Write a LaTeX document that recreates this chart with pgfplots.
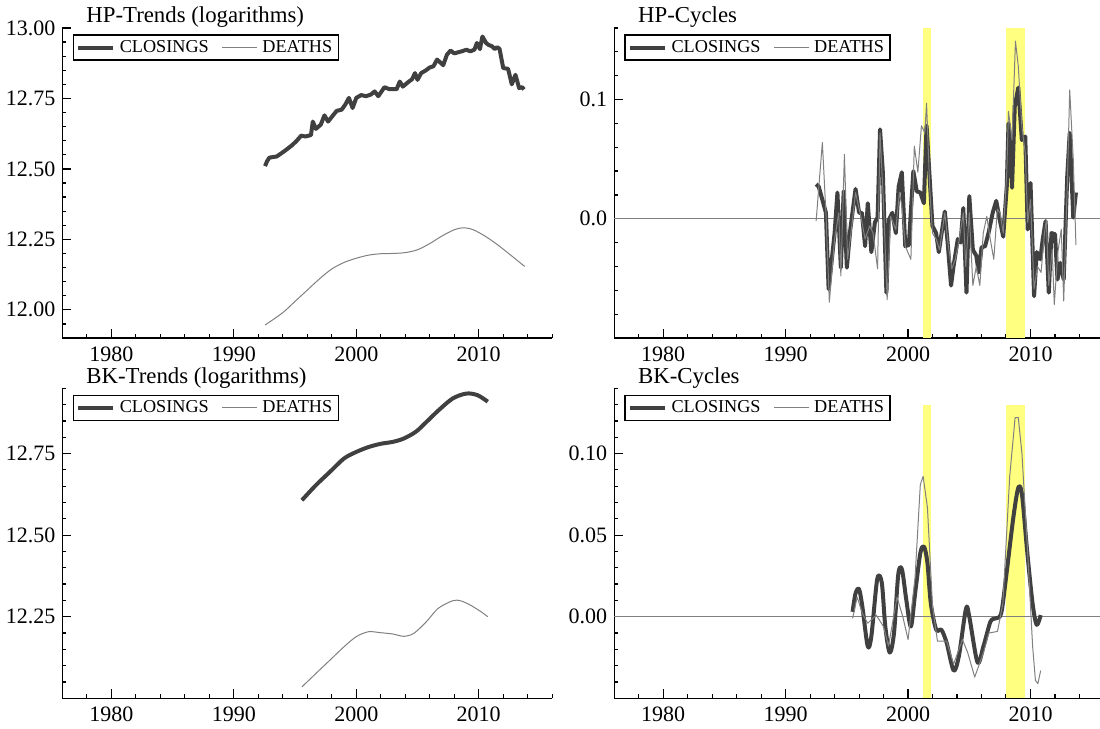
\documentclass[border=0pt]{standalone}
\usepackage{pgfplots}
\pgfplotsset{compat=1.18}
\usepackage{fontspec}
\setmainfont{Liberation Serif}
\definecolor{dk}{HTML}{404040}
\definecolor{lt}{HTML}{808080}
\definecolor{band}{HTML}{FFFF80}

\pgfplotsset{
 panel/.style={
  scale only axis, width=244.9bp, height=155bp, anchor=south west,
  xmin=1976, xmax=2016,
  axis x line*=bottom, axis y line*=left,
  axis line style={line width=0.6bp, -},
  tick align=inside,
  major tick length=4.5bp, minor tick length=2bp,
  every tick/.style={black, line width=0.6bp},
  xtick={1980,1990,2000,2010},
  minor xtick={1976,1978,...,2016},
  ticklabel style={font=\fontsize{11bp}{12bp}\selectfont},
  /pgf/number format/assume math mode=true,
  x tick label style={/pgf/number format/1000 sep={}, yshift=-1bp},
  every axis title/.style={at={(0,1)}, anchor=base west, xshift=11.8bp, yshift=2.5bp, inner sep=0pt, font=\fontsize{11.4bp}{13bp}\selectfont},
  legend columns=2,
  legend style={at={(0,1)}, anchor=north west, xshift=5.1bp, yshift=-3.2bp, draw=black, line width=0.6bp,
    font=\fontsize{9.1bp}{10bp}\selectfont, inner xsep=1.5bp, inner ysep=1bp,
    nodes={inner sep=1.5bp},
    /tikz/every odd column/.append style={column sep=0.8bp},
    /tikz/every even column/.append style={column sep=5bp}},
  legend image code/.code={\draw[##1] (0bp,0bp) -- (17.5bp,0bp);},
 },
 cl/.style={dk, line width=2bp, line join=round},
 de/.style={lt, line width=0.5bp, line join=round},
}

\begin{document}
\begin{tikzpicture}
% ---------------- HP trends ----------------
\begin{axis}[panel, at={(31.2bp,195.5bp)},
  ymin=11.9, ymax=13.0,
  ytick={12,12.25,12.5,12.75,13},
  minor ytick={11.9,11.95,12.05,12.1,12.15,12.2,12.3,12.35,12.4,12.45,12.55,12.6,12.65,12.7,12.8,12.85,12.9,12.95},
  y tick label style={/pgf/number format/.cd, fixed, fixed zerofill, precision=2},
  title={HP-Trends (logarithms)}]
\addplot[cl] coordinates {
(1992.55,12.510) (1992.7,12.526) (1992.9,12.540) (1993.5,12.544) (1994.1,12.562)
(1994.7,12.582) (1995.1,12.598) (1995.5,12.618) (1995.85,12.615) (1996.3,12.620)
(1996.45,12.668) (1996.7,12.642) (1997.1,12.657) (1997.4,12.690) (1997.7,12.668)
(1998.1,12.690) (1998.4,12.706) (1998.8,12.710) (1999.1,12.728) (1999.4,12.752)
(1999.7,12.716) (2000.0,12.752) (2000.4,12.762) (2000.8,12.758) (2001.2,12.764)
(2001.5,12.775) (2001.8,12.758) (2002.3,12.790) (2002.7,12.783) (2003.3,12.783)
(2003.55,12.810) (2003.8,12.792) (2004.3,12.810) (2004.55,12.818) (2004.8,12.840)
(2005.0,12.816) (2005.3,12.840) (2005.7,12.850) (2006.0,12.860) (2006.3,12.864)
(2006.6,12.888) (2006.8,12.880) (2007.1,12.868) (2007.4,12.905) (2007.7,12.920)
(2008.0,12.910) (2008.6,12.917) (2009.0,12.923) (2009.3,12.917) (2009.65,12.923)
(2009.85,12.947) (2010.1,12.925) (2010.3,12.970) (2010.6,12.947) (2010.8,12.940)
(2011.1,12.935) (2011.3,12.925) (2011.5,12.932) (2011.7,12.926) (2012.0,12.858)
(2012.4,12.855) (2012.7,12.800) (2013.0,12.834) (2013.3,12.787) (2013.55,12.790)
(2013.7,12.782)};
\addlegendentry{CLOSINGS}
\addplot[de, smooth] coordinates {
(1992.55,11.946) (1994,11.99) (1995,12.03) (1996,12.07) (1997,12.11) (1998,12.145)
(1999,12.168) (2000,12.183) (2001,12.194) (2002,12.199) (2003,12.200) (2004,12.203)
(2005,12.213) (2006,12.235) (2007,12.262) (2008,12.284) (2008.7,12.291) (2009.5,12.285)
(2010.5,12.262) (2011.5,12.232) (2012.5,12.198) (2013.75,12.154)};
\addlegendentry{DEATHS}
\end{axis}

% ---------------- HP cycles ----------------
\begin{axis}[panel, at={(307.1bp,195.5bp)},
  ymin=-0.1, ymax=0.16,
  ytick={0,0.1},
  minor ytick={-0.1,-0.08,-0.06,-0.04,-0.02,0.02,0.04,0.06,0.08,0.12,0.14,0.16},
  y tick label style={/pgf/number format/.cd, fixed, fixed zerofill, precision=1},
  title={HP-Cycles}]
\addplot[fill=band, draw=none, forget plot] coordinates {(2001.22,-0.1) (2001.88,-0.1) (2001.88,0.16) (2001.22,0.16)} -- cycle;
\addplot[fill=band, draw=none, forget plot] coordinates {(2008.0,-0.1) (2009.52,-0.1) (2009.52,0.16) (2008.0,0.16)} -- cycle;
\addplot[lt, line width=0.6bp, forget plot] coordinates {(1976,0) (2016,0)};
\addplot[cl] coordinates {
(1992.49,0.029) (1992.7,0.027) (1993.0,0.016) (1993.29,0.005) (1993.51,-0.059)
(1993.71,-0.040) (1994.0,-0.012) (1994.23,0.022) (1994.51,-0.041) (1994.74,0.023)
(1995.0,-0.041) (1995.28,-0.009) (1995.71,0.025) (1996.0,0.005) (1996.23,0.005)
(1996.49,-0.023) (1996.71,0.013) (1997.0,-0.028) (1997.29,-0.003) (1997.51,0.001)
(1997.71,0.075) (1997.94,0.039) (1998.23,-0.062) (1998.43,-0.001) (1998.71,0.005)
(1999.0,-0.012) (1999.23,0.027) (1999.49,0.039) (1999.77,-0.023) (2000.06,-0.022)
(2000.43,0.040) (2000.71,0.023) (2001.0,0.022) (2001.29,0.013) (2001.51,0.078)
(2001.77,0.033) (2001.99,-0.006) (2002.29,-0.012) (2002.51,-0.028) (2002.74,-0.012)
(2003.0,0.006) (2003.23,-0.020) (2003.51,-0.056) (2003.71,-0.040) (2004.06,-0.017)
(2004.29,-0.020) (2004.51,0.009) (2004.77,-0.062) (2005.0,0.019) (2005.29,-0.026)
(2005.57,-0.031) (2005.77,-0.045) (2006.0,-0.024) (2006.29,-0.023) (2006.57,-0.012)
(2006.91,0.005) (2007.2,0.015) (2007.49,-0.001) (2007.77,-0.015) (2008.06,0.027)
(2008.2,0.080) (2008.49,0.026) (2008.71,0.094) (2009.0,0.110) (2009.29,0.066)
(2009.57,0.069) (2009.77,-0.009) (2010.0,0.030) (2010.29,-0.065) (2010.51,-0.028)
(2010.8,-0.034) (2011.0,-0.017) (2011.23,-0.002) (2011.49,-0.062) (2011.71,-0.012)
(2012.0,-0.013) (2012.2,-0.051) (2012.43,-0.037) (2012.71,-0.051) (2013.0,0.036)
(2013.2,0.072) (2013.49,0.001) (2013.71,0.022)};
\addlegendentry{CLOSINGS}
\addplot[de] coordinates {
(1992.49,-0.002) (1993.0,0.064) (1993.29,0.005) (1993.57,-0.070) (1994.0,-0.017)
(1994.34,0.005) (1994.51,-0.048) (1994.8,0.054) (1995.06,-0.034) (1995.34,-0.012)
(1995.71,0.022) (1996.14,0.002) (1996.49,-0.017) (1996.86,-0.006) (1997.14,-0.012)
(1997.51,-0.042) (1997.71,0.072) (1998.0,0.011) (1998.29,-0.068) (1998.57,0.002)
(1999.0,-0.009) (1999.29,0.022) (1999.49,0.011) (1999.77,-0.023) (2000.23,-0.034)
(2000.51,0.061) (2000.8,0.039) (2001.09,0.078) (2001.37,0.072) (2001.51,0.097)
(2001.77,0.025) (2001.99,-0.012) (2002.29,-0.017) (2002.57,-0.026) (2003.0,0.005)
(2003.29,-0.023) (2003.57,-0.042) (2003.86,-0.034) (2004.14,-0.020) (2004.51,0.005)
(2004.71,-0.040) (2005.0,0.005) (2005.29,-0.056) (2005.57,-0.040) (2005.86,-0.056)
(2006.14,-0.012) (2006.43,0.002) (2006.71,-0.017) (2007.0,-0.034) (2007.29,0.008)
(2007.51,0.005) (2007.77,-0.012) (2008.06,0.039) (2008.2,0.090) (2008.49,0.066)
(2008.77,0.149) (2009.0,0.128) (2009.29,0.078) (2009.57,0.055) (2009.77,-0.003)
(2010.0,0.016) (2010.29,-0.059) (2010.57,-0.040) (2010.86,-0.045) (2011.14,-0.012)
(2011.29,-0.001) (2011.49,-0.056) (2011.77,-0.026) (2011.94,-0.072) (2012.23,-0.028)
(2012.51,-0.009) (2012.71,-0.069) (2013.0,0.027) (2013.2,0.108) (2013.49,0.050)
(2013.71,-0.022)};
\addlegendentry{DEATHS}
\end{axis}

% ---------------- BK trends ----------------
\begin{axis}[panel, at={(31.2bp,15.35bp)},
  ymin=12.0, ymax=12.95,
  ytick={12.25,12.5,12.75},
  minor ytick={12.05,12.1,12.15,12.2,12.3,12.35,12.4,12.45,12.55,12.6,12.65,12.7,12.8,12.85,12.9,12.95},
  y tick label style={/pgf/number format/.cd, fixed, fixed zerofill, precision=2},
  title={BK-Trends (logarithms)}]
\addplot[cl, smooth] coordinates {
(1995.56,12.607) (1996.7,12.653) (1997.85,12.694) (1999.0,12.735) (2000.0,12.755)
(2001.0,12.770) (2002.0,12.780) (2003.0,12.786) (2003.87,12.796) (2004.87,12.817)
(2005.73,12.847) (2006.73,12.883) (2007.88,12.919) (2009.0,12.934) (2009.9,12.929)
(2010.74,12.909)};
\addlegendentry{CLOSINGS}
\addplot[de, smooth] coordinates {
(1995.56,12.035) (1996.7,12.076) (1997.85,12.117) (1999.0,12.158) (2000.0,12.189)
(2001.0,12.204) (2002.0,12.201) (2003.0,12.197) (2003.87,12.190) (2004.7,12.199)
(2005.73,12.235) (2006.7,12.276) (2007.88,12.299) (2008.5,12.299) (2009.3,12.286)
(2010.2,12.265) (2010.74,12.250)};
\addlegendentry{DEATHS}
\end{axis}

% ---------------- BK cycles ----------------
\begin{axis}[panel, at={(307.1bp,15.35bp)},
  ymin=-0.05, ymax=0.14,
  ytick={0,0.05,0.1},
  minor ytick={-0.05,-0.04,-0.03,-0.02,-0.01,0.01,0.02,0.03,0.04,0.06,0.07,0.08,0.09,0.11,0.12,0.13,0.14},
  y tick label style={/pgf/number format/.cd, fixed, fixed zerofill, precision=2},
  title={BK-Cycles}]
\addplot[fill=band, draw=none, forget plot] coordinates {(2001.22,-0.05) (2001.88,-0.05) (2001.88,0.13) (2001.22,0.13)} -- cycle;
\addplot[fill=band, draw=none, forget plot] coordinates {(2008.0,-0.05) (2009.52,-0.05) (2009.52,0.13) (2008.0,0.13)} -- cycle;
\addplot[lt, line width=0.6bp, forget plot] coordinates {(1976,0) (2016,0)};
\addplot[cl, smooth] coordinates {
(1995.47,0.003) (1995.7,0.014) (1995.99,0.017) (1996.27,0.006) (1996.7,-0.018)
(1997.0,-0.012) (1997.48,0.023) (1997.85,0.021) (1998.14,-0.006) (1998.5,-0.022)
(1998.85,-0.010) (1999.2,0.026) (1999.5,0.029) (1999.86,0.010) (2000.23,-0.006)
(2000.57,0.014) (2001.0,0.039) (2001.3,0.043) (2001.58,0.033) (2001.86,0.008)
(2002.3,-0.008) (2002.72,-0.008) (2003.15,-0.016) (2003.72,-0.033) (2004.15,-0.024)
(2004.73,0.005) (2005.0,0.000) (2005.67,-0.028) (2006.16,-0.018) (2006.73,-0.003)
(2007.16,-0.001) (2007.6,0.002) (2008.0,0.024) (2008.6,0.061) (2009.0,0.079)
(2009.3,0.075) (2009.74,0.039) (2010.17,0.008) (2010.5,-0.005) (2010.83,0.001)};
\addlegendentry{CLOSINGS}
\addplot[de] coordinates {
(1995.47,-0.001) (1995.84,0.012) (1996.27,0.002) (1996.7,-0.004) (1997.4,0.001)
(1997.99,-0.006) (1998.4,-0.018) (1999.1,0.012) (1999.57,0.000) (2000.0,-0.014)
(2000.57,0.024) (2001.0,0.081) (2001.23,0.086) (2001.58,0.067) (2002.0,0.006)
(2002.4,-0.015) (2003.15,-0.015) (2003.72,-0.029) (2004.44,-0.014) (2004.87,-0.022)
(2005.44,-0.037) (2006.16,-0.022) (2006.6,-0.010) (2007.3,-0.009) (2007.74,0.008)
(2008.3,0.086) (2008.74,0.122) (2009.0,0.122) (2009.3,0.100) (2009.74,0.043)
(2010.17,-0.018) (2010.4,-0.039) (2010.6,-0.041) (2010.83,-0.033)};
\addlegendentry{DEATHS}
\end{axis}
\pgfresetboundingbox
\path[use as bounding box] (0,0) rectangle (550bp,364.5bp);
\end{tikzpicture}
\end{document}
